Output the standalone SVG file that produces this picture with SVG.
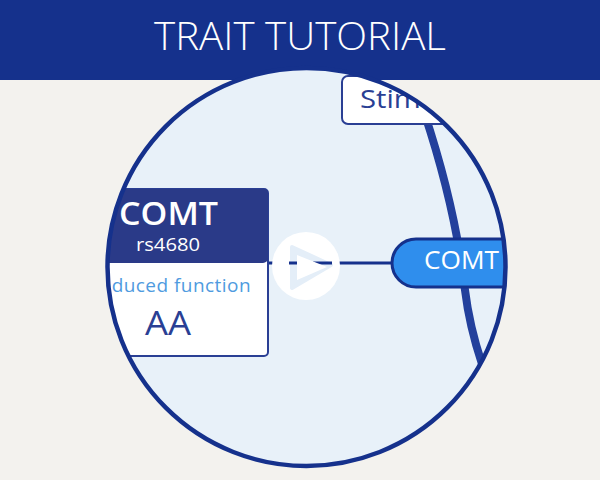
<svg xmlns="http://www.w3.org/2000/svg" width="600" height="480" viewBox="0 0 600 480">
<style>
text{font-family:"Open Sans","Liberation Sans",sans-serif}
.w{fill:#fff}
.box{stroke:#2a3f94;stroke-width:2}
</style>
<defs><clipPath id="c"><circle cx="306.500" cy="267" r="199"/></clipPath></defs>
<rect width="600" height="480" fill="#f3f2ee"/>
<g id="banner"><rect width="600" height="80" fill="#15318c"/>
<text class="w" x="154" y="50" font-size="38" font-weight="300" textLength="292" lengthAdjust="spacingAndGlyphs">TRAIT TUTORIAL</text></g>
<circle cx="306.500" cy="267" r="199" fill="#e8f1f9"/>
<g clip-path="url(#c)">
<g id="connectors" fill="none">
<path d="M424 112C445 175 458 230 465 290C468 315 474 340 482 364" stroke="#23409c" stroke-width="8"/>
<path d="M268 263H392" stroke="#15318c" stroke-width="3"/>
</g>
<g id="stimulus"><rect x="342" y="76" width="130" height="48" rx="6" fill="#fff" class="box"/>
<text x="360" y="108" font-size="25" fill="#2a3f94" textLength="118" lengthAdjust="spacingAndGlyphs">Stimulus</text></g>
<g id="comt-pill"><path d="M520 239H416a24 24 0 0 0 0 48H520Z" fill="#2f8eed" stroke="#15318c" stroke-width="3"/>
<text class="w" x="424" y="269" font-size="25" textLength="75" lengthAdjust="spacingAndGlyphs">COMT</text></g>
<g id="comt-card"><rect x="90" y="189" width="178" height="167" rx="4" fill="#fff" class="box"/>
<path d="M90 189H264a4 4 0 0 1 4 4V258a5 5 0 0 1-5 5H90Z" fill="#2a3a88"/>
<text class="w" x="119" y="225" font-size="32" font-weight="600" textLength="99" lengthAdjust="spacingAndGlyphs">COMT</text>
<text class="w" x="136" y="251" font-size="18" textLength="64" lengthAdjust="spacingAndGlyphs">rs4680</text>
<text x="251" y="292" font-size="19" fill="#4f9be0" text-anchor="end" letter-spacing=".45">Reduced function</text>
<text x="145" y="335" font-size="32" fill="#2a3f94" textLength="46" lengthAdjust="spacingAndGlyphs">AA</text></g>
</g>
<circle cx="306.500" cy="267" r="199" fill="none" stroke="#15318c" stroke-width="4.500"/>
<g id="play"><circle cx="306" cy="266" r="34" fill="#fff"/>
<path d="M292 247L331 265L292 288Z" fill="#e4eef8" stroke="#e4eef8" stroke-width="4" stroke-linejoin="round"/>
<path d="M289 263H297M313 263H332" stroke="#15318c" stroke-width="3"/>
<path d="M297 255L327 267L297 280Z" fill="#fff"/></g>
</svg>
